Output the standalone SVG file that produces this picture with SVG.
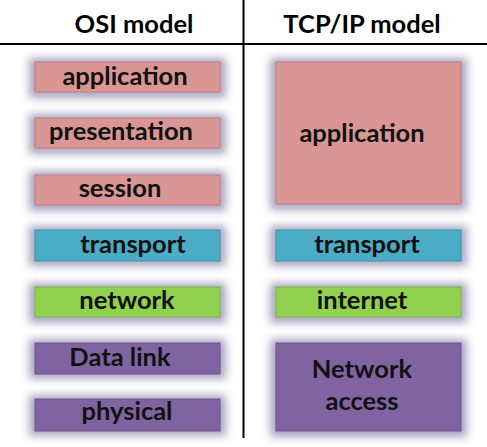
<svg xmlns="http://www.w3.org/2000/svg" width="487" height="447" viewBox="0 0 487 447">
<defs>
<filter id="glow" x="-30%" y="-60%" width="160%" height="220%">
<feGaussianBlur stdDeviation="4.5"/>
</filter>
<filter id="glowBig" x="-20%" y="-20%" width="140%" height="140%">
<feGaussianBlur stdDeviation="4.5"/>
</filter>
</defs>
<style>
.g{fill:#958eb4;opacity:0.8}
.pink{fill:#d99694;stroke:#c07e7c;stroke-width:1}
.blue{fill:#4bacc6;stroke:#3f93aa;stroke-width:1}
.green{fill:#92d050;stroke:#7cb543;stroke-width:1}
.purple{fill:#8064a2;stroke:#6c5389;stroke-width:1}
.t{font-family:Lato,"Open Sans",sans-serif;font-weight:bold;font-size:25.5px;fill:#111;text-anchor:middle}
.h{font-family:Lato,"Open Sans",sans-serif;font-weight:bold;font-size:25.5px;fill:#000;text-anchor:middle}
.ln{stroke:#000;stroke-width:2;fill:none}
</style>
<rect width="487" height="447" fill="#fff"/>
<g id="lines">
<line class="ln" x1="0" y1="44" x2="487" y2="44"/>
<line class="ln" x1="243.5" y1="0" x2="243.5" y2="438"/>
</g>
<g id="headers">
<text class="h" x="134" y="33">OSI model</text>
<text class="h" x="362" y="33">TCP/IP model</text>
</g>
<g id="osi-application">
<rect class="g" x="29" y="58" width="197" height="40" filter="url(#glow)"/>
<rect class="pink" x="35" y="62" width="185" height="30"/>
<text class="t" x="125" y="85">application</text>
</g>
<g id="osi-presentation">
<rect class="g" x="29" y="114" width="197" height="40" filter="url(#glow)"/>
<rect class="pink" x="35" y="118" width="185" height="30"/>
<text class="t" x="121" y="140">presentation</text>
</g>
<g id="osi-session">
<rect class="g" x="29" y="171" width="197" height="40" filter="url(#glow)"/>
<rect class="pink" x="35" y="175" width="185" height="30"/>
<text class="t" x="120" y="197">session</text>
</g>
<g id="osi-transport">
<rect class="g" x="29" y="226" width="197" height="40" filter="url(#glow)"/>
<rect class="blue" x="35" y="230" width="185" height="31"/>
<text class="t" x="133" y="253">transport</text>
</g>
<g id="osi-network">
<rect class="g" x="29" y="283" width="197" height="40" filter="url(#glow)"/>
<rect class="green" x="35" y="287" width="185" height="30"/>
<text class="t" x="127" y="309">network</text>
</g>
<g id="osi-datalink">
<rect class="g" x="29" y="339" width="197" height="40" filter="url(#glow)"/>
<rect class="purple" x="35" y="343" width="185" height="31"/>
<text class="t" x="120" y="366">Data link</text>
</g>
<g id="osi-physical">
<rect class="g" x="29" y="395" width="197" height="41" filter="url(#glow)"/>
<rect class="purple" x="35" y="399" width="185" height="32"/>
<text class="t" x="127" y="420">physical</text>
</g>
<g id="tcp-application">
<rect class="g" x="270" y="58" width="197" height="152" filter="url(#glowBig)"/>
<rect class="pink" x="276" y="62" width="185" height="142"/>
<text class="t" x="362" y="142">application</text>
</g>
<g id="tcp-transport">
<rect class="g" x="270" y="226" width="197" height="40" filter="url(#glow)"/>
<rect class="blue" x="276" y="230" width="185" height="31"/>
<text class="t" x="367" y="253">transport</text>
</g>
<g id="tcp-internet">
<rect class="g" x="270" y="283" width="197" height="40" filter="url(#glow)"/>
<rect class="green" x="276" y="287" width="185" height="30"/>
<text class="t" x="362" y="309">internet</text>
</g>
<g id="tcp-networkaccess">
<rect class="g" x="270" y="339" width="197" height="98" filter="url(#glowBig)"/>
<rect class="purple" x="276" y="343" width="185" height="88"/>
<text class="t" x="362" y="378">Network</text>
<text class="t" x="362" y="410">access</text>
</g>
</svg>
